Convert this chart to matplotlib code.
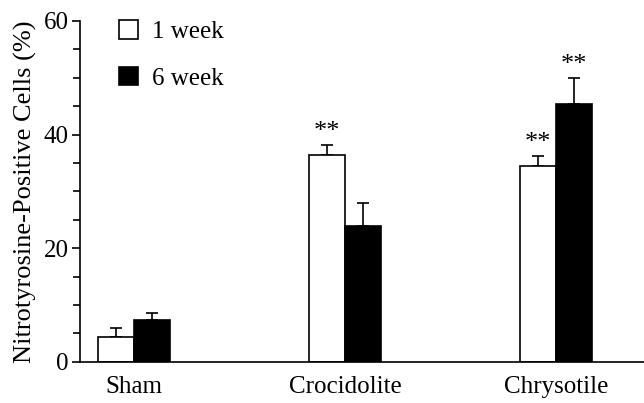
import numpy as np
import matplotlib.pyplot as plt
from matplotlib.patches import Patch
from matplotlib.ticker import MultipleLocator

plt.rcParams['font.family'] = ['Liberation Serif', 'DejaVu Serif']

# Data
groups = ["Sham", "Crocidolite", "Chrysotile"]
week1 = [4.4, 36.4, 34.4]
week1_err = [1.6, 1.8, 1.8]
week6 = [7.3, 24.0, 45.4]
week6_err = [1.3, 4.0, 4.6]
week1_sig = ["", "**", "**"]
week6_sig = ["", "", "**"]

fig = plt.figure(figsize=(6.44, 4.03), dpi=100)
ax = fig.add_axes([0.124, 0.102, 0.876, 0.846])

x = np.arange(len(groups))
w = 0.17

ax.bar(x - w / 2, week1, w, color="white", edgecolor="black", linewidth=1.2, zorder=2)
ax.bar(x + w / 2, week6, w, color="black", edgecolor="black", linewidth=1.2, zorder=2)
ax.errorbar(x - w / 2, week1, yerr=[np.zeros(3), week1_err], fmt="none",
            ecolor="black", elinewidth=1.2, capsize=4, capthick=1.2, zorder=1)
ax.errorbar(x + w / 2, week6, yerr=[np.zeros(3), week6_err], fmt="none",
            ecolor="black", elinewidth=1.2, capsize=4, capthick=1.2, zorder=1)

# significance stars
for i in range(len(groups)):
    if week1_sig[i]:
        ax.text(x[i] - w / 2, week1[i] + week1_err[i] + 0.4, week1_sig[i],
                ha="center", va="bottom", fontsize=19)
    if week6_sig[i]:
        ax.text(x[i] + w / 2, week6[i] + week6_err[i] + 0.4, week6_sig[i],
                ha="center", va="bottom", fontsize=19)

ax.set_xlim(-0.256, 2.417)
ax.set_ylim(0, 60)
ax.set_xticks(x)
ax.set_xticklabels(groups, fontsize=18)
ax.set_yticks([0, 20, 40, 60])
ax.yaxis.set_minor_locator(MultipleLocator(5))
ax.tick_params(axis="y", which="major", labelsize=18, length=6, width=1.2, pad=2)
ax.tick_params(axis="y", which="minor", length=5, width=1.2)
ax.tick_params(axis="x", length=0, pad=10)
ax.set_ylabel("Nitrotyrosine-Positive Cells (%)", fontsize=19, labelpad=5)

for side in ["top", "right"]:
    ax.spines[side].set_visible(False)
ax.spines["left"].set_linewidth(1.2)
ax.spines["bottom"].set_linewidth(1.2)

handles = [Patch(facecolor="white", edgecolor="black", linewidth=1.2),
           Patch(facecolor="black", edgecolor="black", linewidth=1.2)]
ax.legend(handles, ["1 week", "6 week"], loc="upper left", bbox_to_anchor=(0.03, 1.068),
          frameon=False, fontsize=18, handlelength=0.75, handleheight=0.75,
          labelspacing=0.95, handletextpad=0.55)

fig.savefig("out.png", dpi=100)
